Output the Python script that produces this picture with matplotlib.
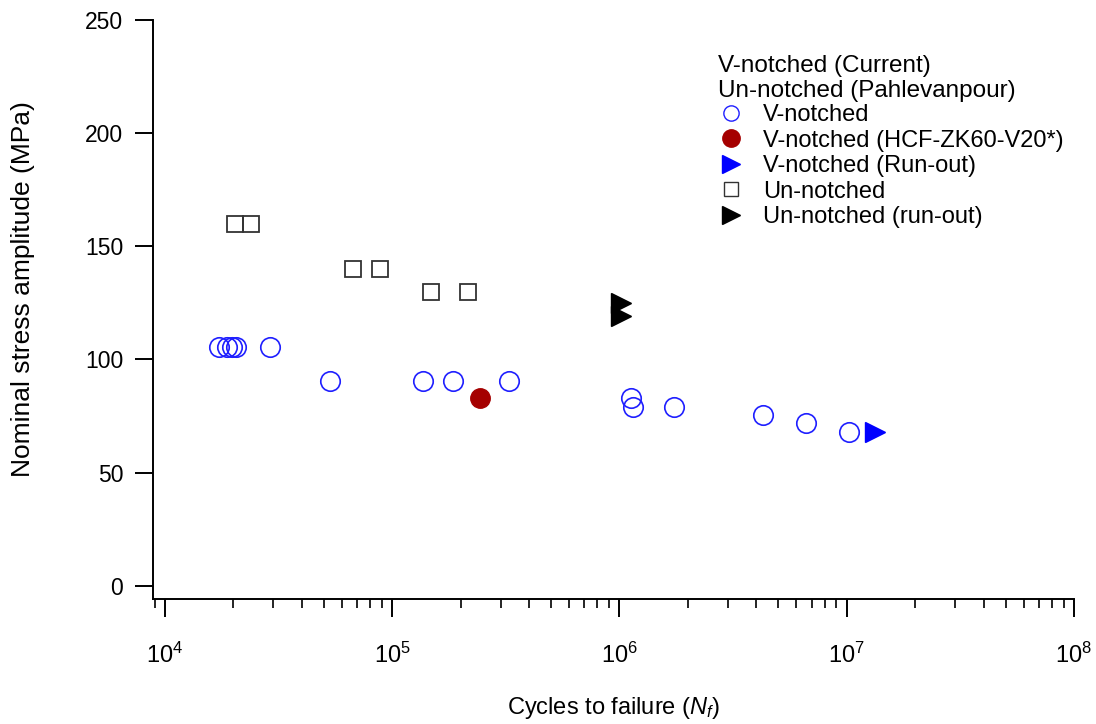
import math
import matplotlib
matplotlib.use("Agg")
import matplotlib.pyplot as plt
from matplotlib.lines import Line2D
from matplotlib.ticker import LogLocator, FixedLocator, NullFormatter

plt.rcParams['font.family'] = ['Liberation Sans', 'DejaVu Sans']
plt.rcParams['mathtext.fontset'] = 'custom'
plt.rcParams['mathtext.rm'] = 'Liberation Sans'
plt.rcParams['mathtext.it'] = 'Liberation Sans:italic'
plt.rcParams['mathtext.bf'] = 'Liberation Sans:bold'

# ---- data ----
vn_cycles = [1.73e4, 1.88e4, 1.98e4, 2.05e4, 2.9e4,
             5.3e4, 1.37e5, 1.85e5, 3.28e5,
             1.12e6, 1.15e6, 1.73e6, 4.3e6, 6.6e6, 1.02e7]
vn_stress = [105.4, 105.4, 105.4, 105.4, 105.4,
             90.6, 90.6, 90.6, 90.6,
             83.0, 79.2, 79.2, 75.6, 71.8, 68.0]

vn_special_cycles = [2.43e5]
vn_special_stress = [83.0]

vn_runout_cycles = [1.33e7]
vn_runout_stress = [68.0]

un_cycles = [2.03e4, 2.39e4, 6.7e4, 8.8e4, 1.48e5, 2.15e5]
un_stress = [160.0, 160.0, 140.0, 140.0, 130.0, 130.0]

un_runout_cycles = [1.02e6, 1.02e6]
un_runout_stress = [125.0, 119.0]

y_ticks = [0, 50, 100, 150, 200, 250]
x_decades = [1e4, 1e5, 1e6, 1e7, 1e8]

blue = '#1f1fff'
red = '#a50000'

fig = plt.figure(figsize=(10.96, 7.24), dpi=100)
ax = fig.add_axes([152.5/1096, 124.7/724, (1074-152.5)/1096, (599.3-20)/724])

ax.plot(vn_cycles, vn_stress, ls='none', marker='o', ms=14, mfc='none',
        mec=blue, mew=1.2, label='V-notched')
ax.plot(vn_special_cycles, vn_special_stress, ls='none', marker='o', ms=14,
        mfc=red, mec=red, label='V-notched (HCF-ZK60-V20*)')
ax.plot(vn_runout_cycles, vn_runout_stress, ls='none', marker='>', ms=15,
        mfc='#0000ff', mec='#0000ff', label='V-notched (Run-out)')
ax.plot(un_cycles, un_stress, ls='none', marker='s', ms=11.5, mfc='none',
        mec='#333333', mew=1.3, label='Un-notched')
ax.plot(un_runout_cycles, un_runout_stress, ls='none', marker='>', ms=15,
        mfc='black', mec='black', label='Un-notched (run-out)')

ax.set_xscale('log')
ax.set_xlim(10**3.945, 1e8)
ax.set_ylim(-6.0, 250)

ax.set_yticks(y_ticks)
ax.set_yticklabels([str(v) for v in y_ticks])
ax.xaxis.set_major_locator(FixedLocator(x_decades))
ax.set_xticklabels([r'$\mathregular{10^{%d}}$' % round(math.log10(v)) for v in x_decades])
ax.xaxis.set_minor_locator(LogLocator(base=10, subs=range(2, 10)))
ax.xaxis.set_minor_formatter(NullFormatter())

for s in ['top', 'right']:
    ax.spines[s].set_visible(False)
for s in ['left', 'bottom']:
    ax.spines[s].set_linewidth(1.4)

ax.tick_params(axis='y', direction='out', length=13, width=1.4, labelsize=16.5, pad=8)
ax.tick_params(axis='x', which='major', direction='out', length=13, width=1.4,
               labelsize=17, pad=18)
ax.tick_params(axis='x', which='minor', direction='out', length=6.5, width=1.2)

ax.set_ylabel('Nominal stress amplitude (MPa)', fontsize=19)
ax.yaxis.set_label_coords(-0.1275, 0.536)
ax.set_xlabel(r'Cycles to failure ($N_f$)', fontsize=17, labelpad=20)

ax.text(0.614, 0.921, 'V-notched (Current)', transform=ax.transAxes,
        fontsize=17.5, va='center', ha='left')
ax.text(0.614, 0.877, 'Un-notched (Pahlevanpour)', transform=ax.transAxes,
        fontsize=17.5, va='center', ha='left')

handles = [
    Line2D([], [], ls='none', marker='o', ms=11, mfc='none', mec=blue, mew=1.0),
    Line2D([], [], ls='none', marker='o', ms=12.5, mfc=red, mec=red),
    Line2D([], [], ls='none', marker='>', ms=13, mfc='#0000ff', mec='#0000ff'),
    Line2D([], [], ls='none', marker='s', ms=10, mfc='none', mec='#333333', mew=1.0),
    Line2D([], [], ls='none', marker='>', ms=13, mfc='black', mec='black'),
]
labels = ['V-notched', 'V-notched (HCF-ZK60-V20*)', 'V-notched (Run-out)',
          'Un-notched', 'Un-notched (run-out)']
ax.legend(handles, labels, loc='upper left', bbox_to_anchor=(0.615, 0.855),
          frameon=False, fontsize=17, handlelength=1.0, handletextpad=0.85,
          labelspacing=0.15, borderaxespad=0, borderpad=0.0)

fig.savefig('out.png', dpi=100)
